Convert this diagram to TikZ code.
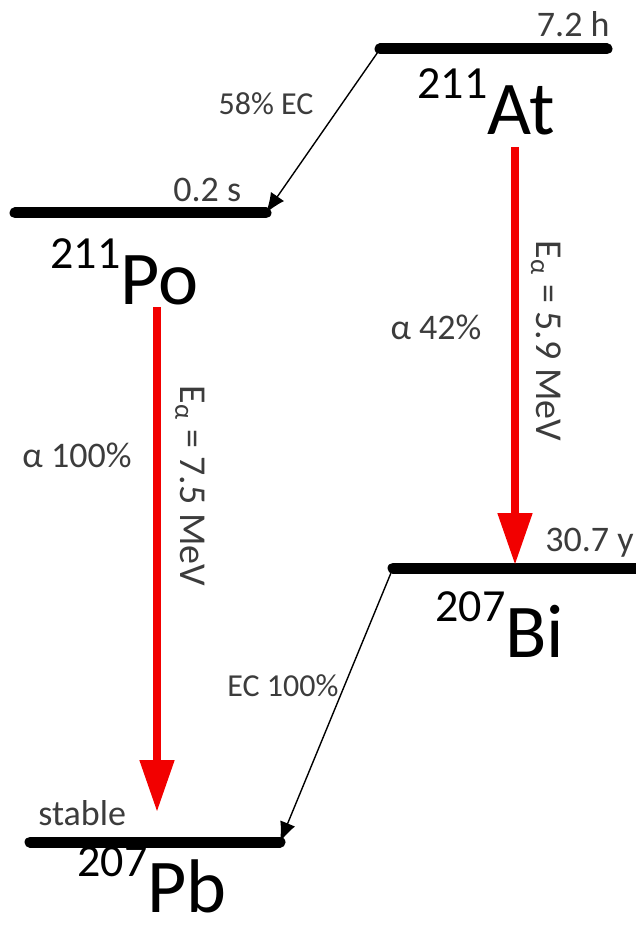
\documentclass[tikz,border=0pt]{standalone}
\usepackage{fontspec}
\setmainfont{Carlito}
\usetikzlibrary{arrows.meta}
\definecolor{labelgray}{HTML}{3C3C3C}
\definecolor{alphared}{HTML}{F20000}
\newcommand{\nucl}[2]{\raisebox{18pt}{\fontsize{23}{23}\selectfont #1}\fontsize{38}{38}\selectfont #2}

\begin{document}
\begin{tikzpicture}[
      x=0.5pt, y=-0.5pt,
      level/.style={line width=5.5pt, line cap=round},
      ecarrow/.style={-{Latex[length=10pt, width=8pt]}, line width=0.7pt},
      alphaarrow/.style={-{Triangle[length=26pt, width=16.5pt]}, draw=alphared, line width=4pt},
      halflife/.style={font=\fontsize{18}{20}\selectfont, text=labelgray, inner sep=0pt},
      branch/.style={font=\fontsize{16}{18}\selectfont, text=labelgray, inner sep=0pt},
      ratio/.style={font=\fontsize{18}{20}\selectfont, text=labelgray, inner sep=0pt},
      energy/.style={font=\fontsize{19}{21}\selectfont, text=labelgray, rotate=-90, inner sep=0pt},
      nuclide/.style={anchor=base west, inner sep=0pt}
    ]
    \useasboundingbox (0,0) rectangle (636,930);

    % levels
    \coordinate (atL) at (380,49);  \coordinate (atR) at (607,49);
    \coordinate (poL) at (15,213);  \coordinate (poR) at (266,213);
    \coordinate (biL) at (393,568); \coordinate (biR) at (642,568);
    \coordinate (pbL) at (30,842);  \coordinate (pbR) at (280,842);
    \draw[level] (atL) -- (atR);
    \draw[level] (poL) -- (poR);
    \draw[level] (biL) -- (biR);
    \draw[level] (pbL) -- (pbR);

    \node[halflife, anchor=base east] (tAt) at (610,37) {7.2 h};
    \node[halflife, anchor=base west] (tPo) at (173,202) {0.2 s};
    \node[halflife, anchor=base east] (tBi) at (634,551) {30.7 y};
    \node[halflife, anchor=base west] (tPb) at (38,825) {stable};

    \node[nuclide] (At) at (417,135) {\nucl{211}{At}};
    \node[nuclide] (Po) at (50,305) {\nucl{211}{Po}};
    \node[nuclide] (Bi) at (435,657) {\nucl{207}{Bi}};
    \node[nuclide] (Pb) at (77,912) {\nucl{207}{Pb}};

    % electron capture
    \draw[ecarrow] (atL) -- (poR);
    \draw[ecarrow] (biL) -- (pbR);
    \node[branch] (ecAt) at (266,104) {58\% EC};
    \node[branch] (ecBi) at (283,686) {EC 100\%};

    % alpha decays
    \coordinate (atTop) at (515,147); \coordinate (biHit) at (515,565);
    \coordinate (poTop) at (157,307); \coordinate (pbHit) at (157,812);
    \draw[alphaarrow] (atTop) -- (biHit);
    \draw[alphaarrow] (poTop) -- (pbHit);
    \node[ratio] (aAt) at (436,327) {α 42\%};
    \node[ratio] (aPo) at (77,455) {α 100\%};
    \node[energy] (eAt) at (546,341) {E\textsubscript{α} = 5.9 MeV};
    \node[energy] (ePo) at (190,486) {E\textsubscript{α} = 7.5 MeV};
  \end{tikzpicture}
\end{document}
